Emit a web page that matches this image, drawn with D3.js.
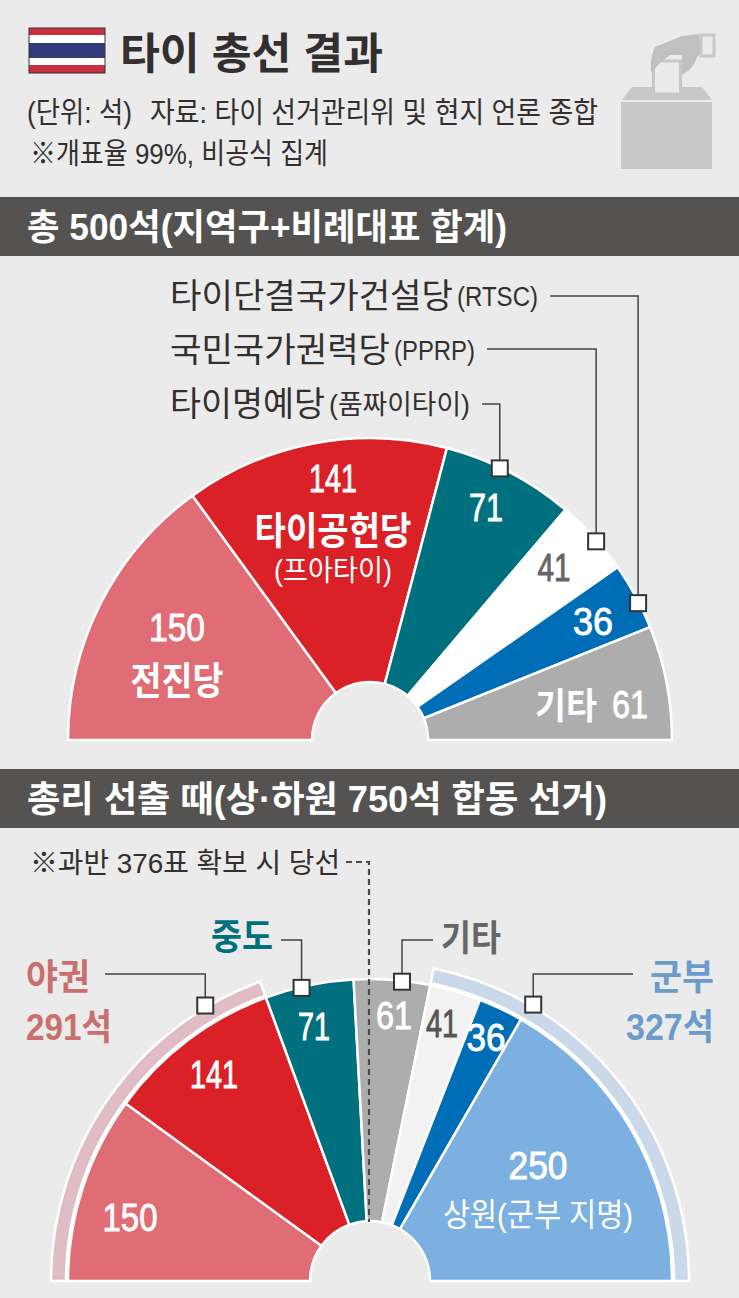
<!DOCTYPE html>
<html>
<head>
<meta charset="utf-8">
<script src="https://cdn.jsdelivr.net/npm/d3@7"></script>
<style>
  html, body { margin: 0; padding: 0; background: #ebebeb; }
  svg { display: block; }
  text { font-family: "Liberation Sans", "Noto Sans CJK KR", sans-serif; }
</style>
</head>
<body>
<script>
// 총 500석
var totalParties = ["전진당", "타이공헌당", "타이명예당", "국민국가권력당", "타이단결국가건설당", "기타"];
var totalSeats = [150, 141, 71, 41, 36, 61];
var totalColors = ["#e06c75", "#da2128", "#00707e", "#ffffff", "#006db7", "#adadad"];

// 총리 선출 750석
var pmSeats = [150, 141, 71, 61, 41, 36, 250];
var pmColors = ["#e06c75", "#da2128", "#00707e", "#adadad", "#f2f2f2", "#006db7", "#7cb0e0"];

// 바깥 띠: 야권 291, 중간 132, 군부 327
var blocNames = ["야권", "중도+기타", "군부"];
var blocSeats = [291, 132, 327];
var blocColors = ["#e0bdc4", "none", "#cbd8ea"];

var W = 739, H = 1298;
var svg = d3.select("body").append("svg").attr("width", W).attr("height", H);
svg.append("rect").attr("width", W).attr("height", H).attr("fill", "#ebebeb");

// 글자 폭을 원본에 맞춰 좁힌다
function label(x, y, str, size, width, fill, weight, anchor) {
  return svg.append("text")
    .attr("x", x).attr("y", y)
    .attr("font-size", size)
    .attr("font-weight", weight || "normal")
    .attr("fill", fill)
    .attr("text-anchor", anchor || "start")
    .attr("textLength", width)
    .attr("lengthAdjust", "spacingAndGlyphs")
    .text(str);
}

// 좁힌 숫자는 획이 가늘어져서 살짝 두껍게
function number(x, y, str, width, fill) {
  return label(x, y, str, 38, width, fill, "normal", "middle")
    .attr("stroke", fill).attr("stroke-width", 0.9);
}

var pie = d3.pie().sort(null)
  .startAngle(-Math.PI / 2).endAngle(Math.PI / 2);

function drawHalf(g, seats, colors, inner, outer) {
  var arc = d3.arc().innerRadius(inner).outerRadius(outer);
  g.append("g").selectAll("path")
    .data(pie(seats))
    .enter().append("path")
    .attr("d", arc)
    .attr("fill", function (d, i) { return colors[i]; })
    .attr("stroke", function (d, i) { return colors[i] === "none" ? "none" : "#fff"; })
    .attr("stroke-width", 2.5)
    .attr("stroke-linejoin", "miter");
}

// 반원 위의 점 (각도는 호의 중앙 + 보정값)
function onArc(cx, cy, slice, r, shift) {
  var a = (slice.startAngle + slice.endAngle) / 2 + shift * Math.PI / 180;
  return [cx + r * Math.sin(a), cy - r * Math.cos(a)];
}

function marker(p, x0, yLine) {
  svg.append("path")
    .attr("d", "M" + x0 + "," + yLine + "H" + p[0] + "V" + p[1])
    .attr("fill", "none").attr("stroke", "#444").attr("stroke-width", 1.5);
  svg.append("rect")
    .attr("x", p[0] - 8).attr("y", p[1] - 8)
    .attr("width", 16).attr("height", 16)
    .attr("fill", "#fff").attr("stroke", "#333").attr("stroke-width", 2);
}

// 제목 영역
var flagStripes = [[28, 7, "#c8303f"], [35, 8, "#fff"], [43, 15, "#333a7c"], [58, 7, "#fff"], [65, 8, "#c8303f"]];
svg.selectAll("rect.flag").data(flagStripes).enter().append("rect")
  .attr("class", "flag")
  .attr("x", 29).attr("width", 76)
  .attr("y", function (d) { return d[0]; })
  .attr("height", function (d) { return d[1]; })
  .attr("fill", function (d) { return d[2]; });
svg.append("rect").attr("x", 29).attr("y", 28).attr("width", 76).attr("height", 45)
  .attr("fill", "none").attr("stroke", "#333").attr("stroke-width", 1);

label(120, 69, "타이 총선 결과", 43, 263, "#332f2e", "bold");
label(27, 123, "(단위: 석)", 29, 105, "#332f2e");
label(150, 123, "자료: 타이 선거관리위 및 현지 언론 종합", 29, 448, "#332f2e");
label(30, 164, "※개표율 99%, 비공식 집계", 29, 298, "#332f2e");

// 투표함 아이콘
svg.append("rect").attr("x", 621).attr("y", 102).attr("width", 91).attr("height", 67).attr("fill", "#c8c8c8");
svg.append("path").attr("d", "M622,100L632,87H702L712,100Z").attr("fill", "#c8c8c8");
svg.append("rect").attr("x", 653.5).attr("y", 61).attr("width", 27).attr("height", 33)
  .attr("fill", "#ebebeb").attr("stroke", "#c8c8c8").attr("stroke-width", 3);
svg.append("path")
  .attr("d", "M651,73C650,62 652,54 655,47L682,36L699,34L701,53L697,57C695,64 691,70 682,75V60L682,55H670L660,63Z")
  .attr("fill", "#c0c0c0");
svg.append("rect").attr("x", 701).attr("y", 35).attr("width", 13).attr("height", 21)
  .attr("fill", "#ebebeb").attr("stroke", "#c8c8c8").attr("stroke-width", 3);

// 제목 띠
svg.append("rect").attr("x", 0).attr("y", 197).attr("width", W).attr("height", 59).attr("fill", "#545351");
label(27, 240, "총 500석(지역구+비례대표 합계)", 36, 480, "#fff", "bold");
svg.append("rect").attr("x", 0).attr("y", 769).attr("width", W).attr("height", 59).attr("fill", "#545351");
label(27, 812, "총리 선출 때(상·하원 750석 합동 선거)", 36, 580, "#fff", "bold");

// 위쪽 반원
var topG = svg.append("g").attr("transform", "translate(370,740)");
drawHalf(topG, totalSeats, totalColors, 58, 302);
var topSlices = pie(totalSeats);

marker(onArc(370, 740, topSlices[2], 301, -2), 482, 404);
marker(onArc(370, 740, topSlices[3], 301, 1), 487, 349);
marker(onArc(370, 740, topSlices[4], 301, 1.4), 550, 296);

label(170, 308, totalParties[4], 34, 283, "#332f2e");
label(457, 306, "(RTSC)", 27, 81, "#332f2e");
label(170, 362, totalParties[3], 34, 220, "#332f2e");
label(394, 360, "(PPRP)", 27, 81, "#332f2e");
label(170, 416, totalParties[2], 34, 155, "#332f2e");
label(329, 414, "(품짜이타이)", 27, 141, "#332f2e");

number(333, 492, totalSeats[1], 48, "#fff");
label(333, 544, totalParties[1], 38, 157, "#fff", "bold", "middle");
label(333, 581, "(프아타이)", 29, 118, "#fff", "normal", "middle");
number(177, 641, totalSeats[0], 56, "#fff");
label(177, 694, totalParties[0], 38, 93, "#fff", "bold", "middle");
number(486, 521, totalSeats[2], 34, "#fff");
number(554, 581, totalSeats[3], 33, "#666");
number(593, 635, totalSeats[4], 40, "#fff");
label(535, 719, totalParties[5], 36, 62, "#fff", "bold");
number(630, 718, totalSeats[5], 36, "#fff");

// 아래쪽 반원
var bottomG = svg.append("g").attr("transform", "translate(370,1281)");
drawHalf(bottomG, blocSeats, blocColors, 304, 319);
drawHalf(bottomG, pmSeats, pmColors, 60, 302);
var pmSlices = pie(pmSeats);
var blocSlices = pie(blocSeats);

// 과반 점선
svg.append("path")
  .attr("d", "M346,862H369V1222")
  .attr("fill", "none").attr("stroke", "#4a4a4a").attr("stroke-width", 2.2)
  .attr("stroke-dasharray", "6,4");
label(30, 873, "※과반 376표 확보 시 당선", 28, 310, "#332f2e");

marker(onArc(370, 1281, blocSlices[0], 321, 24.2), 105, 974);
marker(onArc(370, 1281, pmSlices[2], 301, -1.5), 281, 940);
marker(onArc(370, 1281, pmSlices[3], 301, 1.9), 433, 940);
marker(onArc(370, 1281, blocSlices[2], 321, -20.2), 633, 974);

label(211, 950, "중도", 36, 62, "#00707e", "bold");
label(441, 951, totalParties[5], 36, 60, "#666", "bold");
label(26, 990, blocNames[0], 36, 64, "#c9706f", "bold");
label(26, 1040, blocSeats[0] + "석", 36, 86, "#c9706f", "bold");
label(650, 990, blocNames[2], 36, 64, "#6b9bcb", "bold");
label(626, 1040, blocSeats[2] + "석", 36, 88, "#6b9bcb", "bold");

number(130, 1231, pmSeats[0], 55, "#fff");
number(214, 1088, pmSeats[1], 48, "#fff");
number(314, 1040, pmSeats[2], 32, "#fff");
number(394, 1029, pmSeats[3], 36, "#fff");
number(442, 1037, pmSeats[4], 32, "#555");
number(486, 1051, pmSeats[5], 39, "#fff");
number(538, 1179, pmSeats[6], 59, "#fff");
label(538, 1226, "상원(군부 지명)", 32, 190, "#fff", "normal", "middle");
</script>
</body>
</html>
